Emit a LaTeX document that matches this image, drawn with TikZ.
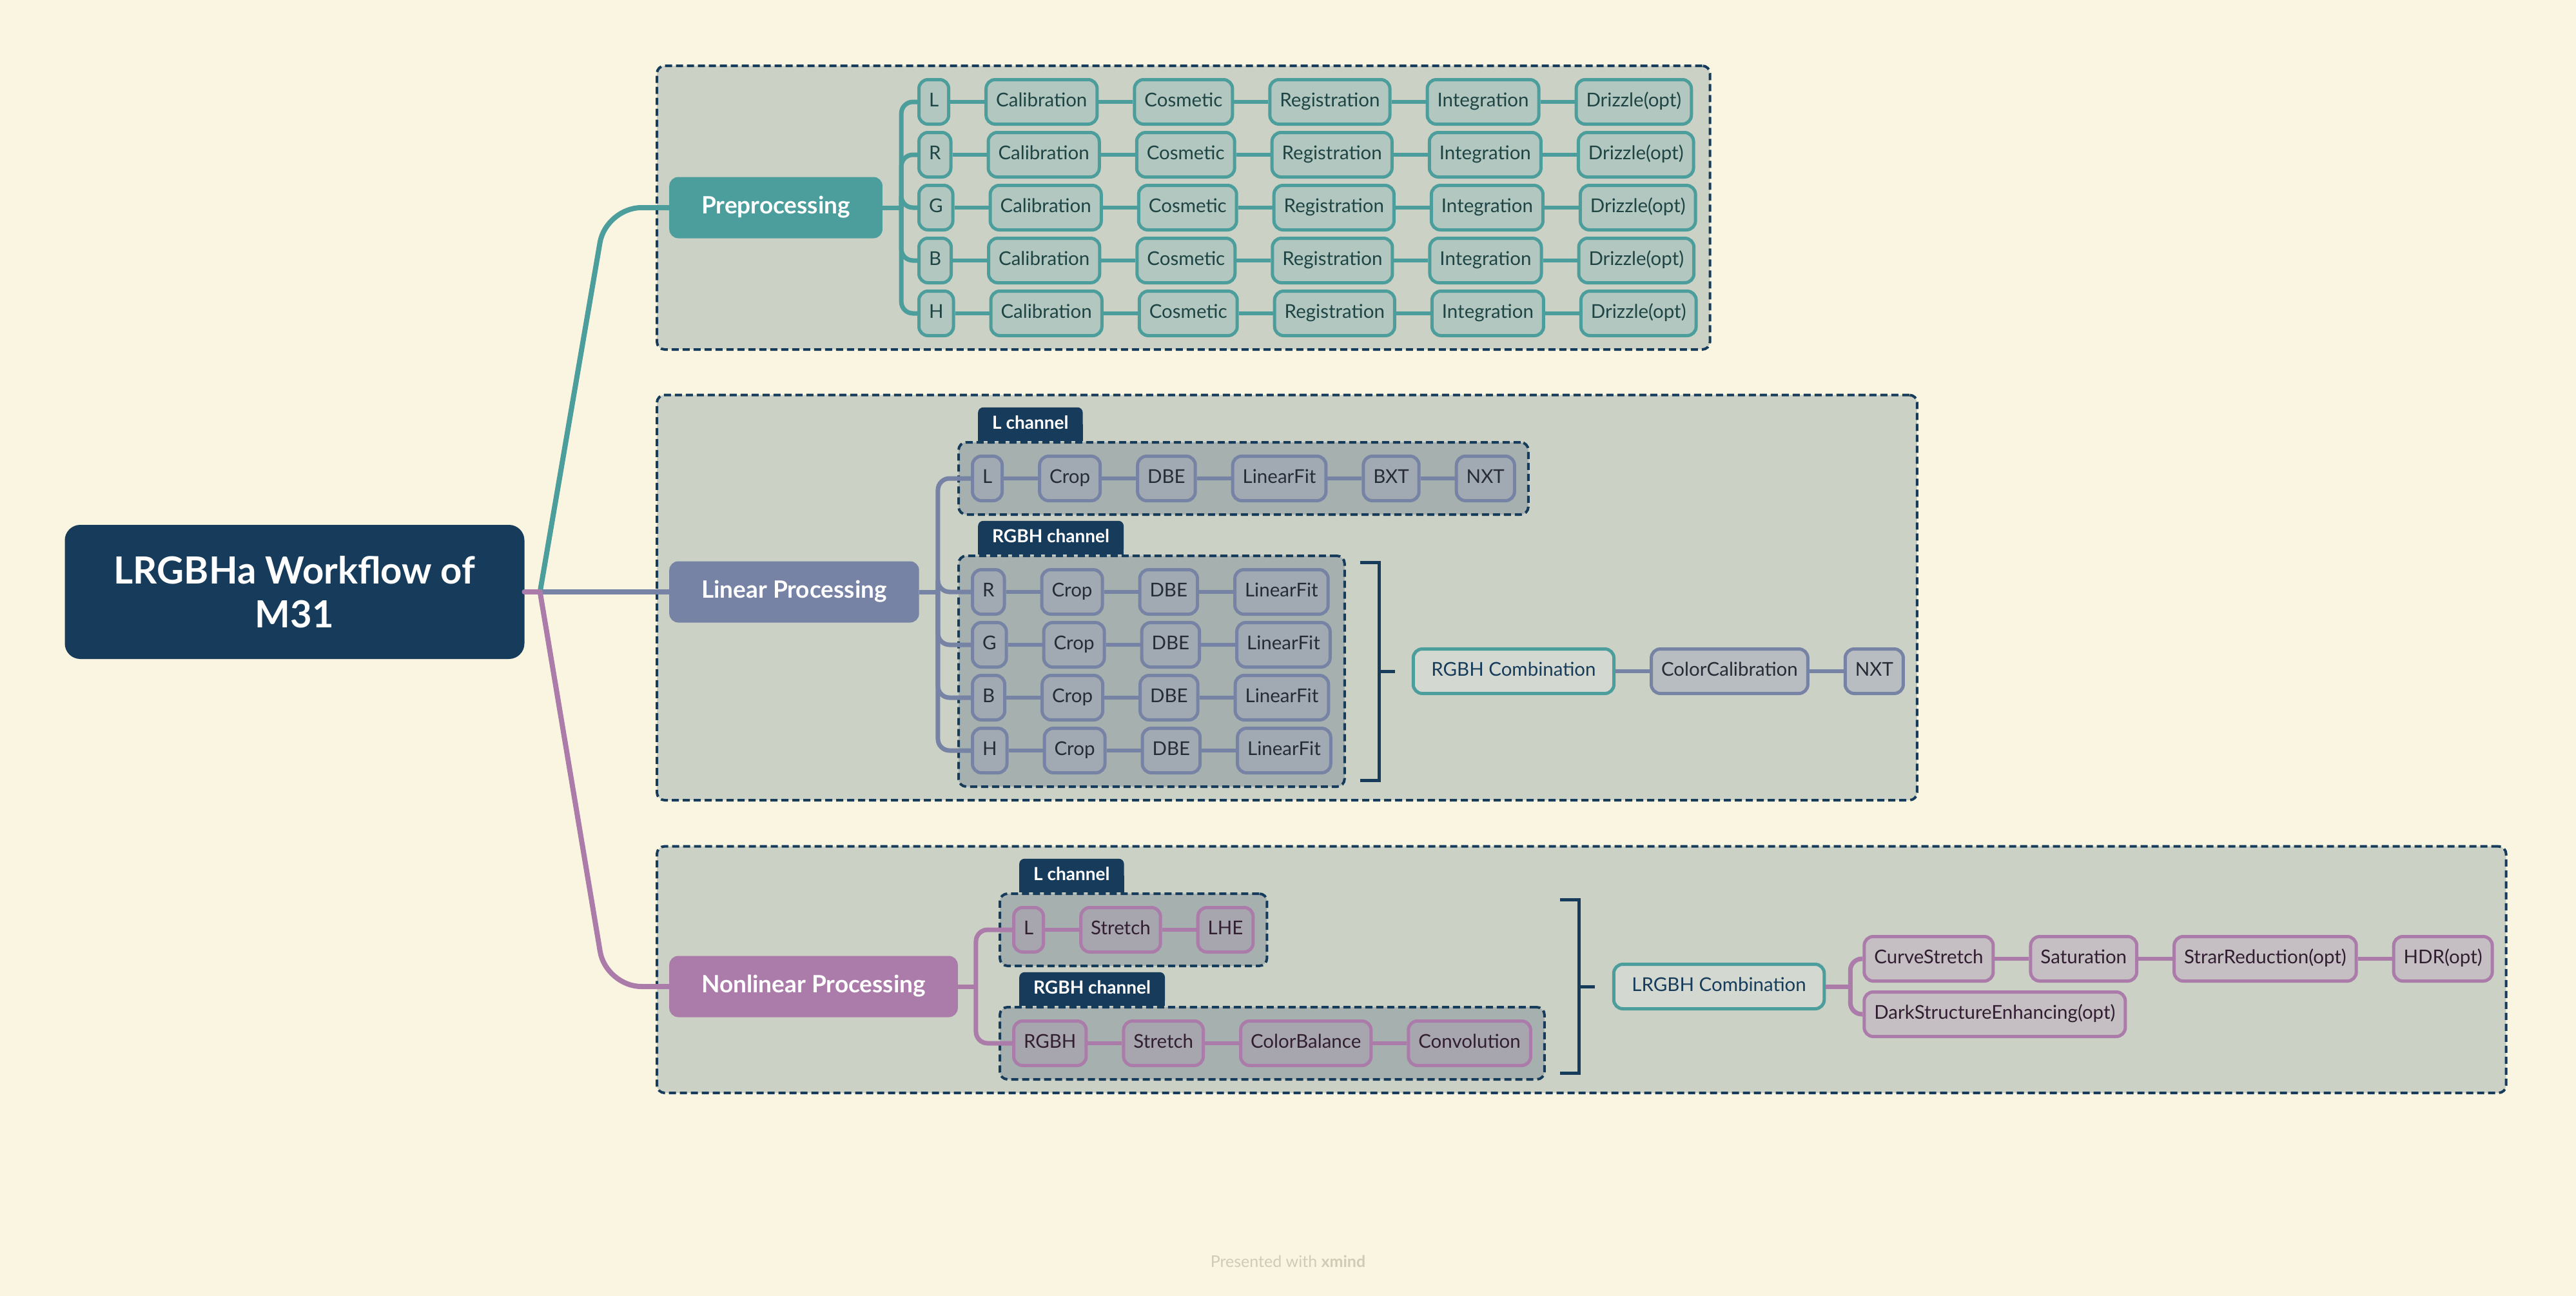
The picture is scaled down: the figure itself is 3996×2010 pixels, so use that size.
\documentclass[tikz,border=0pt]{standalone}
\usepackage{fontspec}
\setmainfont{Lato}
\usetikzlibrary{positioning,fit,calc}

\definecolor{bgc}{HTML}{FAF5E0}
\definecolor{contfill}{HTML}{CBD1C5}
\definecolor{grpfill}{HTML}{A6B1AF}
\definecolor{navyc}{HTML}{173C5B}
\definecolor{tealc}{HTML}{4C9E9C}
\definecolor{tealfill}{HTML}{B2C7BF}
\definecolor{tealtext}{HTML}{1E4444}
\definecolor{slatec}{HTML}{7783A5}
\definecolor{slatefill}{HTML}{A1A9B3}
\definecolor{slatelight}{HTML}{B8BDC1}
\definecolor{slatetext}{HTML}{262B36}
\definecolor{plumc}{HTML}{AB7BAA}
\definecolor{plumfill}{HTML}{A7A5AE}
\definecolor{plumlight}{HTML}{C5BFC3}
\definecolor{plumtext}{HTML}{311F31}
\definecolor{combofill}{HTML}{D3D9D1}
\definecolor{wmark}{HTML}{CFCBB5}

\pgfdeclarelayer{back}
\pgfdeclarelayer{tabs}
\pgfdeclarelayer{mid}
\pgfsetlayers{back,tabs,mid,main}

\tikzset{
    box/.style={rounded corners=14pt, line width=5pt, minimum height=69pt, inner xsep=15.5pt, inner ysep=0pt,
        text height=21pt, text depth=6pt, font=\fontsize{29.5}{33}\selectfont},
    prebox/.style={box, draw=tealc, fill=tealfill, text=tealtext},
    linbox/.style={box, draw=slatec, fill=slatefill, text=slatetext},
    linout/.style={linbox, fill=slatelight},
    nlbox/.style={box, draw=plumc, fill=plumfill, text=plumtext},
    nlout/.style={nlbox, fill=plumlight},
    combo/.style={box, inner xsep=28pt, draw=tealc, fill=combofill, text=navyc},
    topic/.style={rounded corners=14pt, minimum height=95pt, inner xsep=50pt, text height=26pt, text depth=7pt,
        text=white, font=\fontsize{37}{42}\selectfont\bfseries},
    root/.style={fill=navyc, rounded corners=24pt, minimum width=713pt, minimum height=208pt, align=center,
        text=white, font=\fontsize{58}{68}\selectfont\bfseries},
    tab/.style={fill=navyc, rounded corners=8pt, minimum height=52pt, inner xsep=22pt, text height=20pt, text depth=5pt,
        text=white, font=\fontsize{28}{32}\selectfont\bfseries},
    group/.style={draw=navyc, fill=grpfill, line width=4pt, dash pattern=on 11pt off 6pt, rounded corners=12pt, inner sep=19pt},
    section/.style={draw=navyc, fill=contfill, line width=4pt, dash pattern=on 11pt off 6pt, rounded corners=12pt, inner sep=19pt},
    prelink/.style={draw=tealc, line width=6pt},
    linlink/.style={draw=slatec, line width=6pt},
    nllink/.style={draw=plumc, line width=6pt},
    buslink/.style={line width=7pt, rounded corners=18pt},
    mainlink/.style={line width=8pt, line cap=round},
    bracket/.style={draw=navyc, line width=5pt}
}

\begin{document}
\begin{tikzpicture}[x=1pt, y=-1pt]
    \begin{pgfonlayer}{back}
        \fill[bgc] (0,0) rectangle (3996,2010);
    \end{pgfonlayer}

    \node[root] (root) at (457,918) {LRGBHa Workflow of\\M31};
    \node[topic, fill=tealc, anchor=west] (pre) at (1038,322) {Preprocessing};
    \node[topic, fill=slatec, anchor=west] (lin) at (1038,918) {Linear Processing};
    \node[topic, fill=plumc, anchor=west] (nl) at (1038,1530) {Nonlinear Processing};

    \coordinate[right=24pt of root.east] (rootjn);
    \draw[linlink, mainlink] (root.east) -- (lin.west);
    \draw[prelink, mainlink] (root.east) -- (rootjn);
    \draw[prelink, mainlink, rounded corners=55pt] (rootjn) -- ($(pre.west)+(-98,0)$) -- (pre.west);
    \draw[nllink, mainlink] (root.east) -- (rootjn);
    \draw[nllink, mainlink, rounded corners=55pt] (rootjn) -- ($(nl.west)+(-98,0)$) -- (nl.west);

    \foreach \ch [count=\i] in {L,R,G,B,H} {
        \node[prebox, anchor=west] (pre\i-0) at (1423,76+82*\i) {\ch};
        \foreach \s [count=\j, remember=\j as \k (initially 0)] in {Calibration,Cosmetic,Registration,Integration,Drizzle(opt)} {
            \node[prebox, right=53pt of pre\i-\k] (pre\i-\j) {\s};
            \draw[prelink] (pre\i-\k.east) -- (pre\i-\j.west);
        }
    }
    \coordinate[right=29pt of pre.east] (prebus);
    \draw[prelink, buslink] (pre.east) -- (prebus);
    \foreach \i in {1,...,5}
        \draw[prelink, buslink] (prebus) |- (pre\i-0.west);

    \node[linbox, anchor=west] (linL-0) at (1506,742) {L};
    \foreach \s [count=\j, remember=\j as \k (initially 0)] in {Crop,DBE,LinearFit,BXT,NXT} {
        \node[linbox, right=53pt of linL-\k] (linL-\j) {\s};
        \draw[linlink] (linL-\k.east) -- (linL-\j.west);
    }
    \foreach \ch [count=\i] in {R,G,B,H} {
        \node[linbox, anchor=west] (lin\i-0) at (1506,836+82*\i) {\ch};
        \foreach \s [count=\j, remember=\j as \k (initially 0)] in {Crop,DBE,LinearFit} {
            \node[linbox, right=53pt of lin\i-\k] (lin\i-\j) {\s};
            \draw[linlink] (lin\i-\k.east) -- (lin\i-\j.west);
        }
    }
    \coordinate[right=29pt of lin.east] (linbus);
    \draw[linlink, buslink] (lin.east) -- (linbus);
    \foreach \n in {linL-0,lin1-0,lin2-0,lin3-0,lin4-0}
        \draw[linlink, buslink] (linbus) |- (\n.west);

    \node[nlbox, anchor=west] (nlL-0) at (1570,1442) {L};
    \foreach \s [count=\j, remember=\j as \k (initially 0)] in {Stretch,LHE} {
        \node[nlbox, right=53pt of nlL-\k] (nlL-\j) {\s};
        \draw[nllink] (nlL-\k.east) -- (nlL-\j.west);
    }
    \node[nlbox, anchor=west] (nlR-0) at (1570,1618) {RGBH};
    \foreach \s [count=\j, remember=\j as \k (initially 0)] in {Stretch,ColorBalance,Convolution} {
        \node[nlbox, right=53pt of nlR-\k] (nlR-\j) {\s};
        \draw[nllink] (nlR-\k.east) -- (nlR-\j.west);
    }
    \coordinate[right=28pt of nl.east] (nlbus);
    \draw[nllink, buslink] (nl.east) -- (nlbus);
    \foreach \n in {nlL-0,nlR-0}
        \draw[nllink, buslink] (nlbus) |- (\n.west);

    \begin{pgfonlayer}{mid}
        \node[group, fit=(linL-0)(linL-5)] (linLbox) {};
        \node[group, fit=(lin1-0)(lin4-0)(lin1-3)(lin2-3)(lin3-3)(lin4-3)] (linRbox) {};
        \node[group, fit=(nlL-0)(nlL-2)] (nlLbox) {};
        \node[group, fit=(nlR-0)(nlR-3)] (nlRbox) {};
        \node[tab, anchor=south west] (linLtab) at ($(linLbox.north west)+(32,0)$) {L channel};
        \node[tab, anchor=south west] (linRtab) at ($(linRbox.north west)+(32,0)$) {RGBH channel};
        \node[tab, anchor=south west] (nlLtab) at ($(nlLbox.north west)+(32,0)$) {L channel};
        \node[tab, anchor=south west] (nlRtab) at ($(nlRbox.north west)+(32,0)$) {RGBH channel};
    \end{pgfonlayer}
    \begin{pgfonlayer}{tabs}
        \foreach \t in {linLtab,linRtab,nlLtab,nlRtab}
            \fill[navyc] (\t.south west) rectangle (\t.east);
    \end{pgfonlayer}

    \draw[bracket] ($(linRbox.north east)+(22,12)$) -| ($(linRbox.south east)+(52,-12)$) -- ++(-30,0);
    \draw[bracket] ($(linRbox.east)+(52,0)$) -- ++(24,0);
    \node[combo, right=102pt of linRbox.east] (rgbhcomb) {RGBH Combination};
    \node[linout, right=53pt of rgbhcomb] (colcal) {ColorCalibration};
    \node[linout, right=53pt of colcal] (lnxt) {NXT};
    \draw[linlink] (rgbhcomb.east) -- (colcal.west);
    \draw[linlink] (colcal.east) -- (lnxt.west);

    \coordinate (nlmid) at (nlRbox.east |- nl.east);
    \draw[bracket] ($(nlRbox.east |- nlLbox.north)+(22,11)$) -| ($(nlRbox.south east)+(52,-12)$) -- ++(-30,0);
    \draw[bracket] ($(nlmid)+(52,0)$) -- ++(24,0);
    \node[combo, right=103pt of nlmid] (lrgbhcomb) {LRGBH Combination};
    \coordinate[right=38pt of lrgbhcomb.east] (combbus);
    \node[nlout, anchor=west] (curve) at ($(combbus)+(19,-43)$) {CurveStretch};
    \node[nlout, right=53pt of curve] (satur) {Saturation};
    \node[nlout, right=53pt of satur] (starred) {StrarReduction(opt)};
    \node[nlout, right=53pt of starred] (hdr) {HDR(opt)};
    \node[nlout, anchor=west] (dse) at ($(combbus)+(19,43)$) {DarkStructureEnhancing(opt)};
    \draw[nllink, buslink] (lrgbhcomb.east) -- (combbus);
    \draw[nllink, buslink] (combbus) |- (curve.west);
    \draw[nllink, buslink] (combbus) |- (dse.west);
    \draw[nllink] (curve.east) -- (satur.west);
    \draw[nllink] (satur.east) -- (starred.west);
    \draw[nllink] (starred.east) -- (hdr.west);

    \begin{pgfonlayer}{back}
        \node[section, fit=(pre)(pre1-0)(pre5-0)(pre1-5)(pre2-5)(pre3-5)(pre4-5)(pre5-5)] (presec) {};
        \node[section, fit=(lin)(linLtab)(linLbox)(linRbox)(lnxt)] (linsec) {};
        \node[section, fit=(nl)(nlLtab)(nlLbox)(nlRbox)(hdr)(dse)] (nlsec) {};
    \end{pgfonlayer}

    \node[text=wmark, font=\fontsize{25}{30}\selectfont] (wm) at (1998,1956) {Presented with \textbf{xmind}};
\end{tikzpicture}
\end{document}
